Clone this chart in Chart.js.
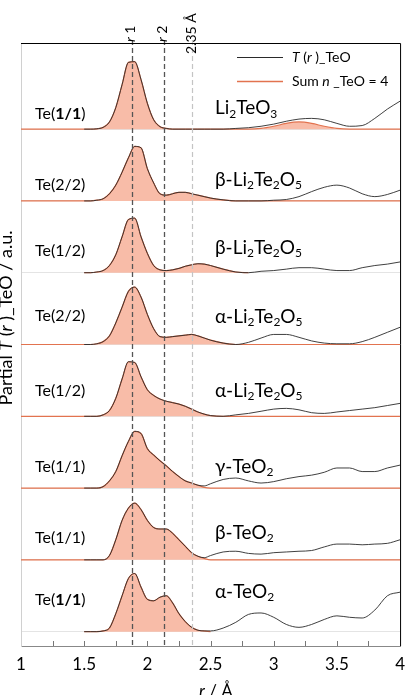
<!DOCTYPE html>
<html>
<head>
  <meta charset="utf-8">
  <title>Partial T(r)_TeO</title>
  <script src="https://cdn.jsdelivr.net/npm/chart.js@4.4.1/dist/chart.umd.min.js"></script>
  <style>
    body { margin: 0; background: #fff; }
    canvas { display: block; }
  </style>
</head>
<body>
  <canvas id="myChart" width="413" height="695"></canvas>
  <script type="text/javascript">
    // r grid (Å) shared by every curve
    var r = [1.0, 1.5, 1.55, 1.6, 1.65, 1.7, 1.75, 1.8, 1.85, 1.9, 1.95, 2.0, 2.05, 2.1, 2.15, 2.2, 2.25, 2.3, 2.35, 2.4,
             2.45, 2.5, 2.6, 2.7, 2.8, 2.9, 3.0, 3.1, 3.2, 3.3, 3.4, 3.5, 3.6, 3.7, 3.8, 3.9, 4.0];

    // panel names, top to bottom
    var sites = ['Te(1/1)', 'Te(2/2)', 'Te(1/2)', 'Te(2/2)', 'Te(1/2)', 'Te(1/1)', 'Te(1/1)', 'Te(1/1)'];
    var phases = ['Li_2TeO_3', 'β-Li_2Te_2O_5', 'β-Li_2Te_2O_5', 'α-Li_2Te_2O_5', 'α-Li_2Te_2O_5', 'γ-TeO_2', 'β-TeO_2', 'α-TeO_2'];

    // T(r)_TeO, black curves
    var tLi2TeO3 = [null, 0, 0, .005, .025, .1, .3, .62, .93, .94, .69, .36, .13, .035, .01, 0, 0, 0, 0, 0, 0, 0, 0, .01, .02, .04, .07, .11, .14, .15, .13, .08, .04, .05, .15, .28, .39];
    var tBetaLi2Te2O5_22 = [null, 0, 0, .01, .03, .1, .22, .4, .6, .76, .74, .45, .25, .1, .08, .1, .12, .12, .1, .08, .06, .04, .015, 0, 0, 0, .01, .02, .06, .13, .19, .22, .18, .1, .06, .09, .15];
    var tBetaLi2Te2O5_12 = [null, 0, 0, .01, .03, .1, .25, .5, .74, .76, .5, .27, .1, .04, .03, .04, .06, .09, .11, .125, .12, .1, .05, .01, 0, .02, .03, .05, .07, .07, .05, .03, .03, .07, .1, .12, .15];
    var tAlphaLi2Te2O5_22 = [null, 0, 0, .01, .04, .12, .3, .52, .74, .8, .66, .42, .22, .11, .1, .11, .12, .13, .14, .12, .09, .06, .02, 0, .03, .09, .14, .14, .1, .05, .02, .01, .01, .04, .1, .17, .24];
    var tAlphaLi2Te2O5_12 = [null, 0, 0, 0, .02, .08, .25, .52, .76, .75, .55, .37, .29, .24, .21, .19, .17, .14, .1, .06, .03, .01, 0, .02, .04, .07, .1, .11, .09, .05, .04, .06, .08, .1, .12, .15, .18];
    var tGammaTeO2 = [null, 0, 0, 0, .02, .1, .23, .45, .65, .79, .76, .55, .46, .38, .31, .23, .16, .1, .07, .04, .03, .06, .12, .14, .1, .07, .09, .13, .16, .18, .22, .28, .28, .23, .23, .28, .32];
    var tBetaTeO2 = [null, 0, 0, 0, 0, .06, .28, .55, .72, .79, .7, .55, .45, .43, .43, .37, .28, .19, .1, .05, .03, .06, .11, .12, .09, .08, .1, .11, .12, .13, .18, .22, .22, .21, .22, .23, .28];
    var tAlphaTeO2 = [null, 0, 0, 0, .01, .05, .25, .5, .74, .81, .62, .45, .43, .48, .5, .4, .25, .14, .06, .02, .01, .01, .05, .13, .24, .26, .2, .1, .06, .1, .17, .22, .2, .19, .3, .5, .55];

    // Sum n_TeO = 4, orange filled curves
    var sLi2TeO3 = [0, 0, 0, .005, .025, .1, .3, .62, .93, .94, .69, .36, .13, .035, .01, 0, 0, 0, 0, 0, 0, 0, 0, 0, 0, .01, .04, .08, .1, .08, .04, .01, 0, 0, 0, 0, 0];
    var sBetaLi2Te2O5_22 = [0, 0, 0, .01, .03, .1, .22, .4, .6, .76, .74, .45, .25, .1, .08, .1, .12, .12, .1, .08, .06, .04, .015, 0, 0, 0, 0, 0, 0, 0, 0, 0, 0, 0, 0, 0, 0];
    var sBetaLi2Te2O5_12 = [null, 0, 0, .01, .03, .1, .25, .5, .74, .76, .5, .27, .1, .04, .03, .04, .06, .09, .11, .125, .12, .1, .05, .01, 0, null, null, null, null, null, null, null, null, null, null, null, null];
    var sAlphaLi2Te2O5_22 = [0, 0, 0, .01, .04, .12, .3, .52, .74, .8, .66, .42, .22, .11, .1, .11, .12, .13, .14, .12, .09, .06, .02, 0, 0, 0, 0, 0, 0, 0, 0, 0, 0, 0, 0, 0, 0];
    var sAlphaLi2Te2O5_12 = [0, 0, 0, 0, .02, .08, .25, .52, .76, .75, .55, .37, .29, .24, .21, .19, .17, .14, .1, .06, .03, .01, 0, 0, 0, 0, 0, 0, 0, 0, 0, 0, 0, 0, 0, 0, 0];
    var sGammaTeO2 = [0, 0, 0, 0, .02, .1, .23, .45, .65, .79, .76, .55, .46, .38, .31, .23, .16, .1, .07, .04, .01, 0, 0, 0, 0, 0, 0, 0, 0, 0, 0, 0, 0, 0, 0, 0, 0];
    var sBetaTeO2 = [0, 0, 0, 0, 0, .06, .28, .55, .72, .79, .7, .55, .45, .43, .43, .37, .28, .19, .1, .05, .02, 0, 0, 0, 0, 0, 0, 0, 0, 0, 0, 0, 0, 0, 0, 0, 0];
    var sAlphaTeO2 = [null, 0, 0, 0, .01, .05, .25, .5, .74, .81, .62, .45, .43, .48, .5, .4, .25, .14, .06, .02, .01, 0, null, null, null, null, null, null, null, null, null, null, null, null, null, null, null];

    // reference distances (Å)
    var markers = [1.88, 2.13, 2.35];

    var tCurves = [tLi2TeO3, tBetaLi2Te2O5_22, tBetaLi2Te2O5_12, tAlphaLi2Te2O5_22, tAlphaLi2Te2O5_12, tGammaTeO2, tBetaTeO2, tAlphaTeO2];
    var sCurves = [sLi2TeO3, sBetaLi2Te2O5_22, sBetaLi2Te2O5_12, sAlphaLi2Te2O5_22, sAlphaLi2Te2O5_12, sGammaTeO2, sBetaTeO2, sAlphaTeO2];

    // label lift above each baseline (in panel units)
    var siteLift = [.21, .22, .31, .4, .36, .29, .31, .44];
    var phaseLift = [.29, .29, .35, .38, .36, .29, .38, .55];

    var FONT = 'Lato, "Open Sans", sans-serif';
    var ORANGE = '#E2734F';
    var FILL = '#F8BCA8';

    function shifted(vals, off) {
      return r.map(function(x, i) {
        return { x: x, y: vals[i] == null ? null : vals[i] + off };
      });
    }

    var datasets = [];
    tCurves.forEach(function(c, i) {
      datasets.push({
        label: 'T(r)_TeO',
        data: shifted(c, 7 - i),
        borderColor: '#2a2a2a',
        borderWidth: 0.9,
        pointRadius: 0,
        fill: false,
        cubicInterpolationMode: 'monotone'
      });
    });
    sCurves.forEach(function(c, i) {
      datasets.push({
        label: 'Sum n_TeO = 4',
        data: shifted(c, 7 - i),
        borderColor: ORANGE,
        borderWidth: 1.2,
        backgroundColor: FILL,
        pointRadius: 0,
        fill: { value: 7 - i },
        cubicInterpolationMode: 'monotone'
      });
    });

    // text with italic / subscript pieces
    function parts(str) {
      var out = [];
      str.split(/(_\d)/).forEach(function(p) {
        if (!p) return;
        if (/^_\d$/.test(p)) out.push({ t: p[1], sub: true });
        else out.push({ t: p });
      });
      return out;
    }

    function drawRich(ctx, list, x, y, size) {
      var cx = x;
      list.forEach(function(p) {
        var s = p.sub ? Math.round(size * 0.62) : size;
        ctx.font = (p.it ? 'italic ' : '') + (p.b ? 'bold ' : '') + s + 'px ' + FONT;
        ctx.fillText(p.t, cx, p.sub ? y + size * 0.28 : y);
        cx += ctx.measureText(p.t).width;
      });
    }

    var deco = {
      id: 'deco',
      afterDatasetsDraw: function(chart) {
        var ctx = chart.ctx, a = chart.chartArea;
        var xs = chart.scales.x, ys = chart.scales.y;
        ctx.save();

        // inner tick marks
        ctx.strokeStyle = '#777';
        ctx.lineWidth = 1;
        for (var v = 1.25; v < 4; v += 0.25) {
          var px = Math.round(xs.getPixelForValue(v)) + 0.5;
          ctx.beginPath();
          ctx.moveTo(px, a.bottom);
          ctx.lineTo(px, a.bottom - 5);
          ctx.stroke();
        }

        // dashed reference lines
        markers.forEach(function(m, k) {
          var px = Math.round(xs.getPixelForValue(m)) + 0.5;
          ctx.strokeStyle = k < 2 ? '#555' : '#c4c4c4';
          ctx.lineWidth = k < 2 ? 1.3 : 1.2;
          ctx.setLineDash([5, 3]);
          ctx.beginPath();
          ctx.moveTo(px, a.top - 3);
          ctx.lineTo(px, a.bottom);
          ctx.stroke();
        });
        ctx.setLineDash([]);

        // frame top and right
        ctx.strokeStyle = '#000';
        ctx.lineWidth = 1;
        ctx.beginPath();
        ctx.moveTo(a.left, a.top + 0.5);
        ctx.lineTo(a.right + 0.5, a.top + 0.5);
        ctx.lineTo(a.right + 0.5, a.bottom);
        ctx.stroke();

        // panel labels
        ctx.fillStyle = '#000';
        ctx.textBaseline = 'middle';
        ctx.textAlign = 'left';
        for (var i = 0; i < 8; i++) {
          var off = 7 - i;
          var sl = [{ t: 'Te(' }, { t: sites[i].slice(3, 6), b: (i === 0 || i === 7) }, { t: ')' }];
          drawRich(ctx, sl, 35, ys.getPixelForValue(off + siteLift[i]), 16);
          drawRich(ctx, parts(phases[i]), 215, ys.getPixelForValue(off + phaseLift[i]), 19);
        }

        // legend
        ctx.lineWidth = 1;
        ctx.strokeStyle = '#2a2a2a';
        ctx.beginPath(); ctx.moveTo(237, 57.5); ctx.lineTo(283, 57.5); ctx.stroke();
        ctx.strokeStyle = ORANGE;
        ctx.lineWidth = 1.3;
        ctx.beginPath(); ctx.moveTo(237, 81.5); ctx.lineTo(283, 81.5); ctx.stroke();
        drawRich(ctx, [{ t: 'T', it: true }, { t: ' (' }, { t: 'r', it: true }, { t: ' )_TeO' }], 292, 57, 14);
        drawRich(ctx, [{ t: 'Sum ' }, { t: 'n', it: true }, { t: ' _TeO = 4' }], 292, 81, 14);

        // marker labels, rotated
        var mLabels = [
          [{ t: 'r', it: true }, { t: ' 1' }],
          [{ t: 'r', it: true }, { t: ' 2' }],
          [{ t: '2.35 Å' }]
        ];
        ctx.textBaseline = 'alphabetic';
        markers.forEach(function(m, k) {
          var px = xs.getPixelForValue(m);
          ctx.save();
          ctx.translate(px + (k < 2 ? 3 : 4), k < 2 ? 42 : 54);
          ctx.rotate(-Math.PI / 2);
          drawRich(ctx, mLabels[k], 0, 0, 14);
          ctx.restore();
        });

        // axis titles
        ctx.save();
        ctx.translate(12, 318);
        ctx.rotate(-Math.PI / 2);
        ctx.textAlign = 'left';
        var yt = [{ t: 'Partial ' }, { t: 'T', it: true }, { t: ' (' }, { t: 'r', it: true }, { t: ' )_TeO / a.u.' }];
        var w = 0;
        yt.forEach(function(p) { ctx.font = (p.it ? 'italic ' : '') + '18px ' + FONT; w += ctx.measureText(p.t).width; });
        drawRich(ctx, yt, -w / 2, 0, 18);
        ctx.restore();

        drawRich(ctx, [{ t: 'r', it: true }, { t: ' / Å' }], 199, 697, 17);
        ctx.restore();
      }
    };

    var ctx = document.getElementById('myChart');
    var myChart = new Chart(ctx, {
      type: 'line',
      data: { datasets: datasets },
      options: {
        responsive: false,
        animation: false,
        layout: { padding: { left: 21, right: 5, top: 43, bottom: 0 } },
        plugins: { legend: { display: false }, tooltip: { enabled: false } },
        scales: {
          x: {
            type: 'linear',
            min: 1,
            max: 4,
            grid: { display: false, drawTicks: false },
            border: { display: true, color: '#888' },
            ticks: {
              stepSize: 0.5, padding: 8, color: '#000',
              font: { family: FONT, size: 17 },
              callback: function(v) { return String(v); }
            },
            afterFit: function(s) { s.height = 49; }
          },
          y: {
            min: -0.2,
            max: 8.2,
            grid: {
              drawTicks: false,
              color: function(c) {
                var v = c.tick.value;
                return Number.isInteger(v) && v < 8 ? '#e4e4e4' : 'rgba(0,0,0,0)';
              }
            },
            border: { display: true, color: '#d0d0d0' },
            ticks: { display: false, stepSize: 1 },
            afterFit: function(s) { s.width = 0; }
          }
        }
      },
      plugins: [deco]
    });
  </script>
</body>
</html>
